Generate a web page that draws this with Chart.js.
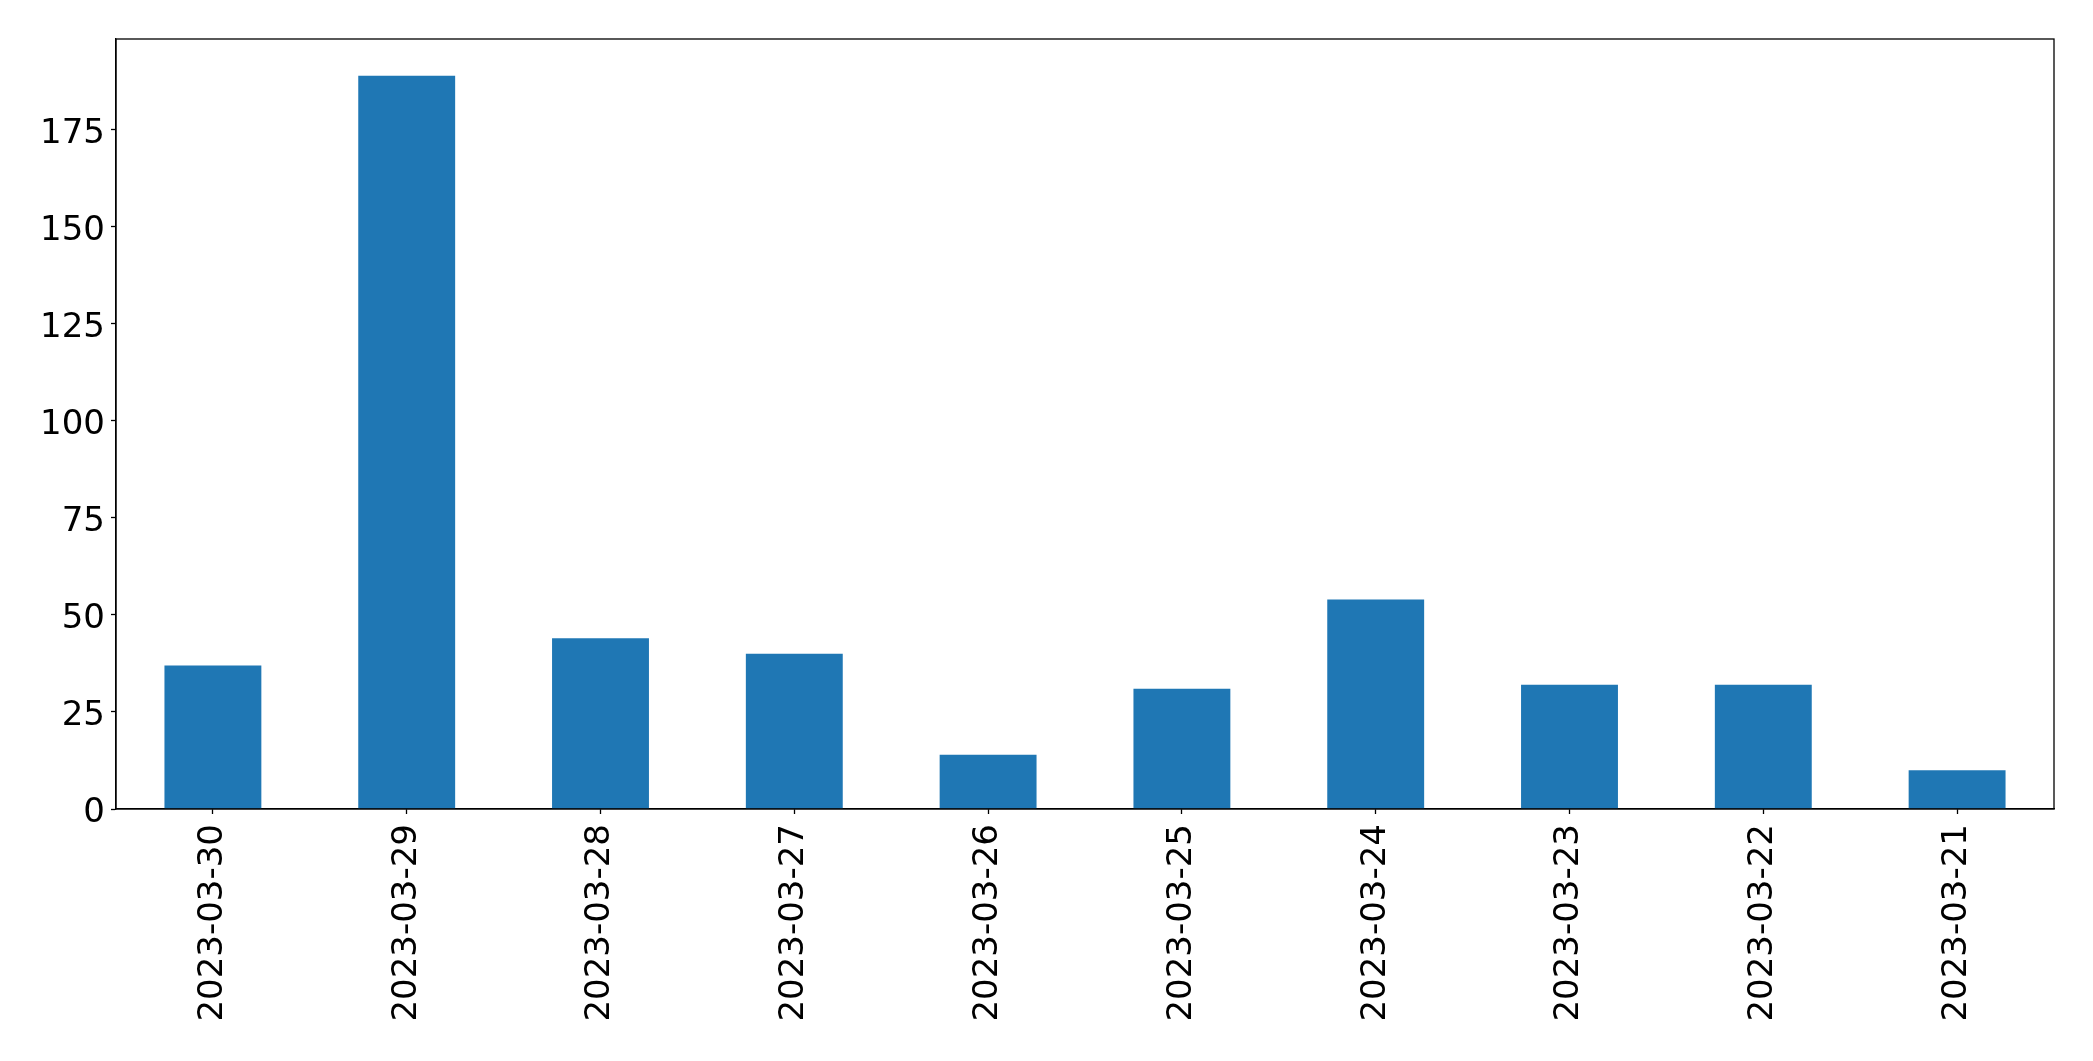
<!DOCTYPE html>
<html>
<head>
<meta charset="utf-8">
<script src="https://cdn.jsdelivr.net/npm/chart.js@4"></script>
<style>
  html, body { margin: 0; padding: 0; background: #fff; }
  #wrap { width: 2093px; height: 1061px; }
</style>
</head>
<body>
<div id="wrap"><canvas id="grafica"></canvas></div>
<script>
// datos
const categorias = ['2023-03-30', '2023-03-29', '2023-03-28', '2023-03-27', '2023-03-26',
                    '2023-03-25', '2023-03-24', '2023-03-23', '2023-03-22', '2023-03-21'];
const valores = [37, 189, 44, 40, 14, 31, 54, 32, 32, 10];
const ticksY = [0, 25, 50, 75, 100, 125, 150, 175];

// marco alrededor del area del grafico (estilo matplotlib)
const marco = {
    id: 'marco',
    afterDraw(chart) {
        const a = chart.chartArea;
        const ctx = chart.ctx;
        ctx.save();
        ctx.strokeStyle = '#000';
        ctx.lineWidth = 1.3;
        ctx.strokeRect(a.left, a.top, a.right - a.left, a.bottom - a.top);
        ctx.restore();
    }
};

const fuente = { family: 'DejaVu Sans', size: 34 };

var ctx = document.getElementById('grafica').getContext('2d');
var grafica = new Chart(ctx, {
    type: 'bar',
    data: {
        labels: categorias,
        datasets: [{
            data: valores,
            backgroundColor: '#1f77b4',
            borderWidth: 0,
            categoryPercentage: 1,
            barPercentage: 0.5
        }]
    },
    options: {
        responsive: true,
        maintainAspectRatio: false,
        animation: false,
        layout: { padding: { top: 39, right: 39, left: 0, bottom: 0 } },
        plugins: { legend: { display: false }, tooltip: { enabled: false } },
        scales: {
            x: {
                grid: { display: true, drawOnChartArea: false, offset: false, tickLength: 5, tickColor: '#000', tickWidth: 1.3 },
                border: { color: '#000', width: 1.3 },
                ticks: { color: '#000', font: fuente, minRotation: 90, maxRotation: 90, padding: 10, autoSkip: false },
                afterFit(scale) { scale.height = 252; }
            },
            y: {
                min: 0,
                max: Math.max(...valores) * 1.05,
                grid: { display: true, drawOnChartArea: false, tickLength: 5, tickColor: '#000', tickWidth: 1.3 },
                border: { color: '#000', width: 1.3 },
                afterBuildTicks(scale) { scale.ticks = ticksY.map(v => ({ value: v })); },
                ticks: { color: '#000', font: fuente, padding: 6, labelOffset: 4 },
                afterFit(scale) { scale.width = 116; }
            }
        }
    },
    plugins: [marco]
});
</script>
</body>
</html>
